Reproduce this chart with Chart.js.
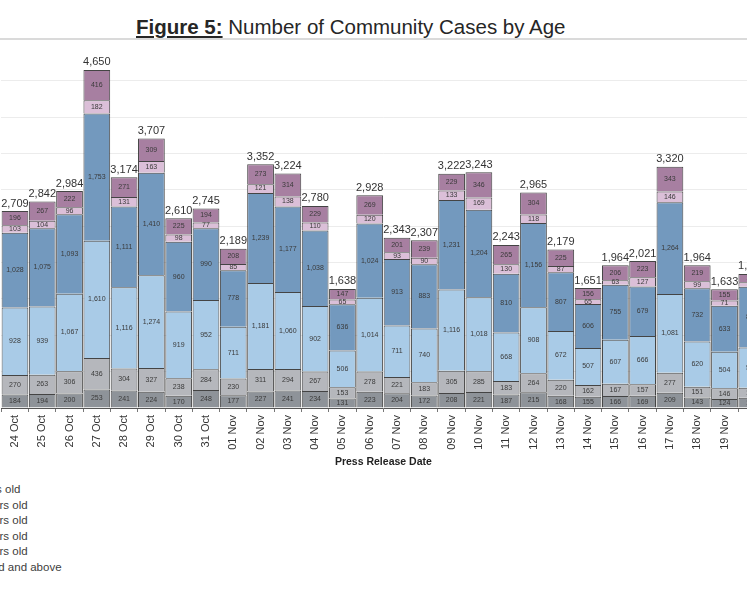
<!DOCTYPE html>
<html>
<head>
<meta charset="utf-8">
<script src="https://cdn.jsdelivr.net/npm/chart.js@4.4.0/dist/chart.umd.min.js"></script>
<style>
    html, body { margin: 0; padding: 0; background: #fff; overflow: hidden; width: 747px; height: 598px; }
    #title { position: absolute; left: 136px; top: 17px; font-family: "Liberation Sans", Arial, sans-serif; font-size: 20.5px; line-height: 20.5px; color: #262626; white-space: nowrap; }
    #title b { text-decoration: underline; }
    #rule { position: absolute; left: 0; top: 38px; width: 747px; height: 2px; background: #dadada; }
    #chart-box { position: absolute; left: 0; top: 0; width: 768px; height: 475px; }
    #legend { position: absolute; left: -58px; top: 482px; font-family: "Liberation Sans", Arial, sans-serif; font-size: 11.5px; line-height: 15.5px; color: #404040; white-space: nowrap; }
</style>
</head>
<body>
<div id="title"><b>Figure 5:</b> Number of Community Cases by Age</div>
<div id="rule"></div>
<div id="chart-box"><canvas id="ageChart"></canvas></div>
<div id="legend"></div>
<script>
const dates = ["24 Oct", "25 Oct", "26 Oct", "27 Oct", "28 Oct", "29 Oct", "30 Oct", "31 Oct",
    "01 Nov", "02 Nov", "03 Nov", "04 Nov", "05 Nov", "06 Nov", "07 Nov", "08 Nov", "09 Nov", "10 Nov",
    "11 Nov", "12 Nov", "13 Nov", "14 Nov", "15 Nov", "16 Nov", "17 Nov", "18 Nov", "19 Nov", "20 Nov"];

const ageGroups = ["0 - 11 years old", "12 - 19 years old", "20 - 39 years old",
    "40 - 59 years old", "60 - 69 years old", "70 years old and above"];

const age0to11 = [184, 194, 200, 253, 241, 224, 170, 248, 177, 227, 241, 234, 131, 223,
    204, 172, 208, 221, 187, 215, 168, 155, 166, 169, 209, 143, 124, 142];
const age12to19 = [270, 263, 306, 436, 304, 327, 238, 284, 230, 311, 294, 267, 153, 278,
    221, 183, 305, 285, 183, 264, 220, 162, 167, 157, 277, 151, 146, 138];
const age20to39 = [928, 939, 1067, 1610, 1116, 1274, 919, 952, 711, 1181, 1060, 902, 506, 1014,
    711, 740, 1116, 1018, 668, 908, 672, 507, 607, 666, 1081, 620, 504, 552];
const age40to59 = [1028, 1075, 1093, 1753, 1111, 1410, 960, 990, 778, 1239, 1177, 1038, 636, 1024,
    913, 883, 1231, 1204, 810, 1156, 807, 606, 755, 679, 1264, 732, 633, 837];
const age60to69 = [103, 104, 96, 182, 131, 163, 98, 77, 85, 121, 138, 110, 65, 120,
    93, 90, 133, 169, 130, 118, 87, 65, 63, 127, 146, 99, 71, 60];
const age70plus = [196, 267, 222, 416, 271, 309, 225, 194, 208, 273, 314, 229, 147, 269,
    201, 239, 229, 346, 265, 304, 225, 156, 206, 223, 343, 219, 155, 115];

const seriesValues = [age0to11, age12to19, age20to39, age40to59, age60to69, age70plus];
const seriesColors = ["#8e9399", "#b5b7bc", "#a9cbe7", "#7399be", "#dbbfd8", "#a77fa1"];

document.addEventListener("DOMContentLoaded", function () {

    const legendBox = document.getElementById("legend");
    ageGroups.forEach(name => {
        const row = document.createElement("div");
        row.textContent = name;
        legendBox.appendChild(row);
    });

    // labels inside each segment plus the total above each bar
    const barLabels = {
        id: "barLabels",
        afterDatasetsDraw(chart) {
            const ctx = chart.ctx;
            ctx.save();
            ctx.textAlign = "center";
            ctx.fillStyle = "#3a3a3a";
            ctx.textBaseline = "middle";
            ctx.font = "7px 'Liberation Sans', Arial, sans-serif";
            chart.data.datasets.forEach((ds, di) => {
                chart.getDatasetMeta(di).data.forEach((bar, i) => {
                    ctx.fillText(ds.data[i].toLocaleString("en-US"), bar.x, (bar.y + bar.base) / 2);
                });
            });
            const lastMeta = chart.getDatasetMeta(chart.data.datasets.length - 1);
            ctx.font = "11px 'Liberation Sans', Arial, sans-serif";
            ctx.fillStyle = "#333";
            ctx.textBaseline = "bottom";
            lastMeta.data.forEach((bar, i) => {
                const total = seriesValues.reduce((sum, s) => sum + s[i], 0);
                ctx.fillText(total.toLocaleString("en-US"), bar.x, bar.y - 2);
            });
            ctx.restore();
        }
    };

    const ageChart = document.getElementById("ageChart").getContext("2d");
    new Chart(ageChart, {
        type: "bar",
        data: {
            labels: dates,
            datasets: ageGroups.map((name, k) => ({
                label: name,
                data: seriesValues[k],
                backgroundColor: seriesColors[k],
                borderColor: "rgba(35,35,35,0.85)",
                borderWidth: 1,
                barPercentage: 0.98,
                categoryPercentage: 1
            }))
        },
        options: {
            responsive: true,
            maintainAspectRatio: false,
            animation: false,
            layout: { padding: { left: 1.3, top: 44.5, right: 0, bottom: 0 } },
            plugins: {
                legend: { display: false },
                tooltip: { enabled: false }
            },
            scales: {
                x: {
                    stacked: true,
                    afterFit: function (axis) { axis.height = 67; },
                    grid: { drawOnChartArea: false, tickLength: 4, tickColor: "#777" },
                    border: { color: "#555" },
                    ticks: {
                        minRotation: 90,
                        maxRotation: 90,
                        padding: 3,
                        color: "#333",
                        font: { family: "'Liberation Sans', Arial, sans-serif", size: 11 }
                    },
                    title: {
                        display: true,
                        text: "Press Release Date",
                        color: "#222",
                        padding: { top: 0, bottom: 7 },
                        font: { family: "'Liberation Sans', Arial, sans-serif", size: 10.5, weight: "bold" }
                    }
                },
                y: {
                    stacked: true,
                    min: 0,
                    max: 5000,
                    afterFit: function (axis) { axis.width = 0; },
                    border: { display: false },
                    ticks: { display: false, stepSize: 500 },
                    grid: {
                        drawTicks: false,
                        color: ctx => (ctx.tick && ctx.tick.value > 0 && ctx.tick.value < 5000) ? "#ececec" : "rgba(0,0,0,0)"
                    }
                }
            }
        },
        plugins: [barLabels]
    });
});
</script>
</body>
</html>
